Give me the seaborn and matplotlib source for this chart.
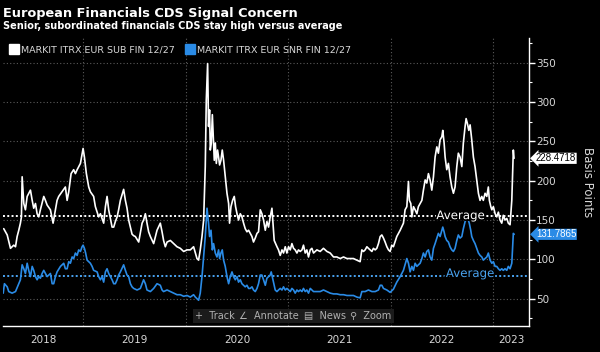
import matplotlib
matplotlib.use('Agg')
import matplotlib.pyplot as plt
import matplotlib.patheffects as pe
import matplotlib.transforms as mtransforms
from matplotlib.lines import Line2D
from matplotlib.ticker import MultipleLocator, FixedLocator
import seaborn as sns
import numpy as np
import pandas as pd

# ----------------------------------------------------------------------
# data (decimal years, basis points)
# ----------------------------------------------------------------------
sub_years = [
    2018.222, 2018.256, 2018.288, 2018.320, 2018.337, 2018.353, 2018.369, 2018.385, 2018.395, 2018.402,
    2018.418, 2018.434, 2018.451, 2018.483, 2018.500, 2018.515, 2018.532, 2018.548, 2018.564, 2018.580,
    2018.613, 2018.629, 2018.646, 2018.678, 2018.704, 2018.727, 2018.743, 2018.759, 2018.792, 2018.824,
    2018.841, 2018.857, 2018.880, 2018.905, 2018.922, 2018.939, 2018.971, 2018.997, 2019.010, 2019.029,
    2019.052, 2019.068, 2019.100, 2019.117, 2019.149, 2019.166, 2019.182, 2019.198, 2019.215, 2019.231,
    2019.247, 2019.280, 2019.296, 2019.312, 2019.329, 2019.344, 2019.361, 2019.393, 2019.410, 2019.426,
    2019.442, 2019.459, 2019.475, 2019.491, 2019.507, 2019.540, 2019.573, 2019.588, 2019.605, 2019.621,
    2019.637, 2019.654, 2019.686, 2019.719, 2019.751, 2019.768, 2019.783, 2019.800, 2019.817, 2019.849,
    2019.881, 2019.914, 2019.946, 2019.979, 2020.012, 2020.044, 2020.076, 2020.093, 2020.109, 2020.125,
    2020.141, 2020.158, 2020.174, 2020.190, 2020.200, 2020.213, 2020.222, 2020.232, 2020.239, 2020.249,
    2020.259, 2020.268, 2020.278, 2020.288, 2020.298, 2020.310, 2020.320, 2020.330, 2020.343, 2020.356,
    2020.369, 2020.385, 2020.402, 2020.418, 2020.427, 2020.441, 2020.457, 2020.473, 2020.486, 2020.500,
    2020.515, 2020.532, 2020.548, 2020.564, 2020.580, 2020.597, 2020.613, 2020.629, 2020.646, 2020.661,
    2020.678, 2020.695, 2020.710, 2020.727, 2020.743, 2020.759, 2020.776, 2020.792, 2020.808, 2020.824,
    2020.841, 2020.851, 2020.863, 2020.890, 2020.905, 2020.922, 2020.939, 2020.954, 2020.971, 2020.987,
    2021.003, 2021.020, 2021.036, 2021.052, 2021.068, 2021.085, 2021.100, 2021.117, 2021.134, 2021.149,
    2021.166, 2021.182, 2021.198, 2021.215, 2021.231, 2021.247, 2021.280, 2021.312, 2021.344, 2021.361,
    2021.378, 2021.410, 2021.442, 2021.475, 2021.507, 2021.540, 2021.573, 2021.605, 2021.637, 2021.670,
    2021.702, 2021.719, 2021.735, 2021.751, 2021.768, 2021.783, 2021.800, 2021.817, 2021.832, 2021.849,
    2021.865, 2021.881, 2021.898, 2021.914, 2021.930, 2021.946, 2021.963, 2021.979, 2021.995, 2022.011,
    2022.027, 2022.060, 2022.093, 2022.125, 2022.141, 2022.158, 2022.174, 2022.183, 2022.197, 2022.207,
    2022.223, 2022.239, 2022.256, 2022.271, 2022.288, 2022.305, 2022.320, 2022.337, 2022.353, 2022.369,
    2022.385, 2022.402, 2022.418, 2022.434, 2022.451, 2022.466, 2022.483, 2022.500, 2022.509, 2022.522,
    2022.532, 2022.548, 2022.564, 2022.580, 2022.597, 2022.613, 2022.629, 2022.646, 2022.661, 2022.678,
    2022.695, 2022.710, 2022.727, 2022.737, 2022.749, 2022.763, 2022.776, 2022.792, 2022.808, 2022.824,
    2022.841, 2022.857, 2022.873, 2022.890, 2022.905, 2022.922, 2022.939, 2022.954, 2022.964, 2022.978,
    2022.988, 2023.003, 2023.020, 2023.036, 2023.052, 2023.068, 2023.085, 2023.100, 2023.117, 2023.134,
    2023.149, 2023.166, 2023.183, 2023.198, 2023.205,
]
sub_bps = [
    139, 131, 114, 118, 116, 129, 137, 146, 154, 205,
    171, 163, 180, 188, 175, 165, 171, 158, 154, 163,
    180, 175, 169, 163, 146, 163, 175, 180, 186, 192,
    175, 186, 209, 214, 209, 214, 222, 241, 230, 209,
    192, 186, 180, 167, 154, 158, 152, 146, 167, 180,
    163, 141, 141, 148, 154, 163, 175, 189, 175, 165,
    150, 141, 132, 130, 129, 122, 146, 150, 158, 146,
    135, 129, 120, 137, 146, 135, 124, 116, 122, 124,
    120, 116, 114, 110, 112, 112, 116, 108, 101, 99,
    112, 129, 150, 218, 303, 349, 269, 290, 239, 248,
    284, 256, 226, 248, 222, 239, 230, 220, 226, 239,
    226, 205, 184, 171, 146, 167, 175, 180, 167, 158,
    150, 158, 154, 146, 139, 135, 137, 133, 129, 122,
    127, 133, 135, 163, 158, 150, 137, 148, 141, 154,
    165, 146, 124, 116, 112, 105, 112, 108, 116, 108,
    116, 112, 120, 114, 112, 108, 112, 110, 112, 118,
    108, 112, 103, 112, 114, 108, 112, 110, 114, 112,
    110, 108, 103, 103, 101, 103, 101, 101, 101, 99,
    97, 112, 110, 112, 116, 114, 112, 110, 114, 112,
    114, 120, 129, 131, 127, 122, 116, 112, 110, 118,
    116, 129, 137, 146, 163, 167, 199, 175, 171, 154,
    167, 163, 158, 167, 171, 175, 188, 201, 197, 209,
    201, 188, 205, 230, 243, 235, 252, 256, 264, 248,
    230, 214, 222, 205, 192, 184, 192, 218, 235, 230,
    218, 248, 269, 279, 273, 264, 271, 252, 230, 218,
    201, 184, 175, 180, 175, 184, 180, 192, 175, 167,
    163, 167, 158, 154, 160, 150, 146, 156, 150, 152,
    146, 144, 175, 239, 228.4718,
]

snr_years = [
    2018.217, 2018.229, 2018.256, 2018.271, 2018.304, 2018.337, 2018.369, 2018.385, 2018.402, 2018.418,
    2018.434, 2018.451, 2018.466, 2018.483, 2018.500, 2018.515, 2018.532, 2018.548, 2018.564, 2018.580,
    2018.597, 2018.613, 2018.629, 2018.646, 2018.678, 2018.695, 2018.710, 2018.727, 2018.743, 2018.776,
    2018.808, 2018.824, 2018.841, 2018.857, 2018.873, 2018.890, 2018.905, 2018.922, 2018.939, 2018.954,
    2018.971, 2018.987, 2018.997, 2019.010, 2019.022, 2019.036, 2019.068, 2019.085, 2019.100, 2019.134,
    2019.149, 2019.166, 2019.182, 2019.198, 2019.215, 2019.231, 2019.247, 2019.280, 2019.296, 2019.312,
    2019.329, 2019.344, 2019.361, 2019.393, 2019.410, 2019.426, 2019.442, 2019.459, 2019.475, 2019.491,
    2019.524, 2019.556, 2019.588, 2019.605, 2019.621, 2019.654, 2019.686, 2019.719, 2019.751, 2019.768,
    2019.783, 2019.817, 2019.849, 2019.881, 2019.914, 2019.946, 2019.979, 2020.012, 2020.044, 2020.076,
    2020.093, 2020.109, 2020.125, 2020.141, 2020.158, 2020.174, 2020.190, 2020.207, 2020.222, 2020.232,
    2020.246, 2020.259, 2020.271, 2020.288, 2020.304, 2020.320, 2020.330, 2020.343, 2020.356, 2020.369,
    2020.385, 2020.402, 2020.418, 2020.434, 2020.451, 2020.466, 2020.483, 2020.500, 2020.515, 2020.532,
    2020.548, 2020.564, 2020.580, 2020.597, 2020.613, 2020.629, 2020.646, 2020.661, 2020.678, 2020.695,
    2020.710, 2020.727, 2020.743, 2020.759, 2020.776, 2020.792, 2020.808, 2020.824, 2020.834, 2020.851,
    2020.873, 2020.890, 2020.905, 2020.922, 2020.939, 2020.954, 2020.971, 2020.987, 2021.003, 2021.020,
    2021.036, 2021.052, 2021.068, 2021.085, 2021.100, 2021.117, 2021.134, 2021.149, 2021.166, 2021.182,
    2021.198, 2021.215, 2021.231, 2021.247, 2021.280, 2021.312, 2021.344, 2021.378, 2021.410, 2021.442,
    2021.475, 2021.507, 2021.540, 2021.573, 2021.605, 2021.637, 2021.670, 2021.702, 2021.719, 2021.751,
    2021.783, 2021.817, 2021.849, 2021.881, 2021.898, 2021.914, 2021.930, 2021.963, 2021.995, 2022.027,
    2022.060, 2022.093, 2022.125, 2022.158, 2022.174, 2022.190, 2022.207, 2022.223, 2022.239, 2022.256,
    2022.271, 2022.288, 2022.305, 2022.320, 2022.337, 2022.353, 2022.369, 2022.385, 2022.402, 2022.418,
    2022.434, 2022.451, 2022.466, 2022.483, 2022.500, 2022.509, 2022.522, 2022.532, 2022.548, 2022.564,
    2022.580, 2022.597, 2022.613, 2022.629, 2022.646, 2022.661, 2022.678, 2022.695, 2022.710, 2022.727,
    2022.743, 2022.759, 2022.768, 2022.782, 2022.792, 2022.808, 2022.824, 2022.841, 2022.857, 2022.873,
    2022.890, 2022.905, 2022.922, 2022.939, 2022.954, 2022.971, 2022.988, 2023.003, 2023.020, 2023.036,
    2023.052, 2023.068, 2023.085, 2023.100, 2023.117, 2023.134, 2023.149, 2023.166, 2023.183, 2023.198,
    2023.205,
]
snr_bps = [
    57, 69, 65, 59, 57, 59, 69, 74, 93, 88,
    82, 95, 86, 78, 91, 86, 78, 74, 78, 76,
    82, 86, 82, 78, 82, 69, 69, 78, 84, 91,
    95, 88, 88, 97, 95, 103, 101, 108, 105, 112,
    110, 116, 118, 114, 108, 99, 95, 91, 86, 84,
    78, 74, 78, 71, 84, 88, 82, 74, 69, 69,
    74, 80, 84, 93, 86, 80, 78, 69, 65, 63,
    61, 63, 74, 69, 61, 59, 63, 69, 67, 61,
    59, 61, 59, 57, 55, 55, 53, 54, 52, 55,
    52, 50, 48, 57, 78, 103, 129, 165, 146, 129,
    137, 112, 120, 108, 103, 112, 101, 108, 112, 99,
    91, 78, 69, 78, 84, 78, 74, 78, 71, 74,
    69, 67, 65, 67, 63, 63, 65, 61, 59, 63,
    69, 80, 80, 74, 67, 76, 78, 80, 84, 74,
    61, 59, 61, 63, 61, 65, 61, 63, 61, 59,
    63, 61, 57, 61, 59, 61, 59, 63, 59, 61,
    57, 63, 61, 59, 59, 59, 61, 59, 57, 56,
    56, 55, 55, 54, 54, 54, 52, 51, 59, 59,
    61, 59, 59, 61, 67, 67, 63, 61, 58, 62,
    71, 78, 86, 101, 95, 84, 91, 86, 95, 91,
    93, 95, 101, 108, 103, 110, 112, 103, 99, 114,
    120, 127, 133, 129, 137, 141, 135, 129, 124, 122,
    116, 112, 110, 114, 124, 131, 127, 129, 139, 148,
    152, 150, 146, 137, 129, 124, 120, 114, 108, 105,
    103, 99, 101, 103, 108, 99, 95, 97, 91, 91,
    88, 86, 88, 86, 88, 86, 91, 88, 95, 133,
    131.7865,
]

sub_avg = 154.6
snr_avg = 79.0
sub_name = "MARKIT ITRX EUR SUB FIN 12/27"
snr_name = "MARKIT ITRX EUR SNR FIN 12/27"
year_labels = [2018, 2019, 2020, 2021, 2022, 2023]
toolbar = ["+  Track", "∠  Annotate", "▤  News", "⚲  Zoom"]

WHITE = "#ffffff"
BLUE = "#2a8be6"
BLUE_AVG = "#4aa3f0"
GRID = "#5a5a5a"
TXT = "#d8d8d8"

df = pd.concat([
    pd.DataFrame({"year": sub_years, "bps": sub_bps, "series": sub_name}),
    pd.DataFrame({"year": snr_years, "bps": snr_bps, "series": snr_name}),
], ignore_index=True)

sns.set_theme(style="dark", rc={"figure.facecolor": "black", "axes.facecolor": "black"})
plt.rcParams['font.family'] = ['DejaVu Sans']

W, H = 600, 352
fig = plt.figure(figsize=(6.0, 3.52), dpi=100, facecolor="black")
ax = fig.add_axes([3 / W, 1 - 326 / H, 526 / W, 288 / H])
ax.set_facecolor("black")

sns.lineplot(data=df, x="year", y="bps", hue="series",
             palette={sub_name: WHITE, snr_name: BLUE},
             estimator=None, sort=False, linewidth=1.2, legend=False, ax=ax, zorder=3)

xmin, xmax = 2018.215, 2023.351
ax.set_xlim(xmin, xmax)
ax.set_ylim(15.2, 381.5)

# grid
ax.yaxis.set_major_locator(MultipleLocator(50))
ax.yaxis.set_minor_locator(MultipleLocator(25))
ax.xaxis.set_major_locator(FixedLocator(year_labels[1:]))
ax.xaxis.set_minor_locator(MultipleLocator(0.25))
ax.grid(True, which="major", color=GRID, linestyle=(0, (1, 2)), linewidth=0.8)

# spines
for s in ["left", "top"]:
    ax.spines[s].set_visible(False)
for s in ["right", "bottom"]:
    ax.spines[s].set_visible(True)
    ax.spines[s].set_color(WHITE)
    ax.spines[s].set_linewidth(1.0)

# y axis on the right
ax.yaxis.tick_right()
ax.tick_params(axis="y", which="major", length=4, width=1, color=WHITE,
               labelcolor=TXT, labelsize=7.5, pad=1, direction="out")
ax.tick_params(axis="y", which="minor", length=2.5, width=0.8, color=WHITE, direction="out")
ax.tick_params(axis="x", which="major", length=20, width=1.2, color="#4a4a4a",
               labelbottom=False, direction="out")
ax.tick_params(axis="x", which="minor", length=3, width=0.8, color=WHITE, direction="inout")
ax.set_xlabel("")
ax.set_ylabel("")

# year labels centred in their visible span
for yr in year_labels:
    lo, hi = max(yr, xmin), min(yr + 1, xmax)
    ax.text((lo + hi) / 2, -0.05, str(yr), transform=ax.get_xaxis_transform(),
            ha="center", va="center", color=TXT, fontsize=7.5)

# average lines
ax.axhline(sub_avg, color=WHITE, linestyle=(0, (1, 1.2)), linewidth=1.4, zorder=2)
ax.axhline(snr_avg, color=BLUE_AVG, linestyle=(0, (1, 1.2)), linewidth=1.4, zorder=2)
stroke = [pe.withStroke(linewidth=2.5, foreground="black")]
ax.text(2022.683, sub_avg + 1, "Average", color=WHITE, fontsize=8.5,
        ha="center", va="center", path_effects=stroke, zorder=4)
ax.text(2022.776, snr_avg + 3, "Average", color=BLUE_AVG, fontsize=8.5,
        ha="center", va="center", path_effects=stroke, zorder=4)

# last value tags
trans = mtransforms.blended_transform_factory(ax.transAxes, ax.transData)
tag_font = dict(family="Liberation Sans", size=7.0)
ax.text(1.013, sub_bps[-1], f"{sub_bps[-1]:.4f}", transform=trans, color="black",
        fontdict=tag_font, ha="left", va="center", clip_on=False,
        bbox=dict(boxstyle="larrow,pad=0.06", fc=WHITE, ec="none"))
ax.text(1.013, snr_bps[-1], f"{snr_bps[-1]:.4f}", transform=trans, color=WHITE,
        fontdict=tag_font, ha="left", va="center", clip_on=False,
        bbox=dict(boxstyle="larrow,pad=0.06", fc=BLUE, ec="none"))

fig.text(587 / W, 1 - 182 / H, "Basis Points", rotation=270, color=TXT,
         fontsize=8.5, ha="center", va="center")

# titles
fig.text(3 / W, 1 - 13 / H, "European Financials CDS Signal Concern", color=WHITE,
         fontsize=9.3, fontweight="bold", ha="left", va="center")
fig.text(3 / W, 1 - 26 / H, "Senior, subordinated financials CDS stay high versus average",
         color=WHITE, fontsize=7.05, fontweight="bold", ha="left", va="center")

# legend
handles = [Line2D([], [], marker="s", ls="", markersize=6.5, color=WHITE),
           Line2D([], [], marker="s", ls="", markersize=6.5, color=BLUE)]
fig.legend(handles, [sub_name, snr_name], loc="upper left",
           bbox_to_anchor=(0.006, 1 - 40 / H), ncol=2, frameon=False,
           fontsize=6.8, labelcolor=TXT, handletextpad=0.2, columnspacing=1.2,
           handlelength=1.0, borderaxespad=0.2)

# toolbar overlay
for cx, label in zip([215, 269, 324.5, 370.5], toolbar):
    fig.text(cx / W, 1 - 316 / H, label, color="#b0b0b0", fontsize=7,
             ha="center", va="center",
             bbox=dict(boxstyle="square,pad=0.25", fc="#1b1b1b", ec="none"))

fig.savefig("out.png", dpi=100, facecolor="black")
